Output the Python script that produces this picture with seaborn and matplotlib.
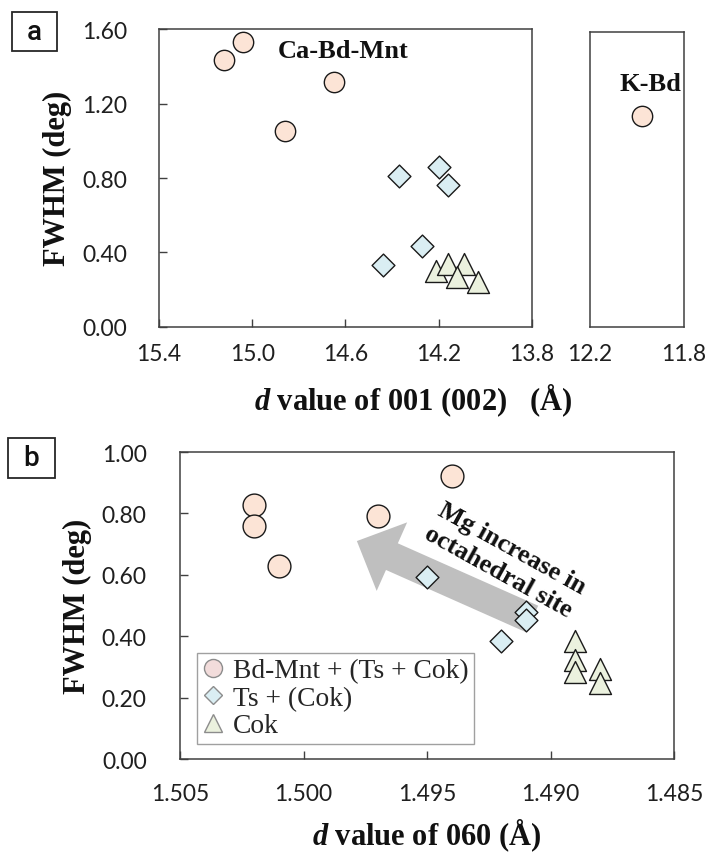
import matplotlib
matplotlib.use("Agg")
import matplotlib.pyplot as plt
import matplotlib.font_manager as fm
import seaborn as sns
import pandas as pd
from matplotlib.patches import FancyArrowPatch, Rectangle
from matplotlib.lines import Line2D
from matplotlib.ticker import FormatStrFormatter

# ---------------- data ----------------
# panel a : d(001) vs FWHM
a_bdmnt_d = [15.12, 15.04, 14.65, 14.86]
a_bdmnt_fwhm = [1.435, 1.528, 1.316, 1.055]
a_ts_d = [14.37, 14.20, 14.16, 14.27, 14.44]
a_ts_fwhm = [0.813, 0.859, 0.763, 0.437, 0.335]
a_cok_d = [14.21, 14.16, 14.09, 14.12, 14.03]
a_cok_fwhm = [0.298, 0.340, 0.340, 0.270, 0.243]
a_kbd_d = [11.98]
a_kbd_fwhm = [1.134]

# panel b : d(060) vs FWHM
b_bdmnt_d = [1.5020, 1.5020, 1.5010, 1.4940, 1.4970]
b_bdmnt_fwhm = [0.827, 0.760, 0.630, 0.921, 0.790]
b_ts_d = [1.4950, 1.4910, 1.4910, 1.4920]
b_ts_fwhm = [0.592, 0.478, 0.453, 0.385]
b_cok_d = [1.4890, 1.4890, 1.4890, 1.4880, 1.4880]
b_cok_fwhm = [0.383, 0.321, 0.282, 0.293, 0.248]

a_xticks = [15.4, 15.0, 14.6, 14.2, 13.8]
a_kbd_xticks = [12.2, 11.8]
a_yticks = [0.0, 0.4, 0.8, 1.2, 1.6]
b_xticks = [1.505, 1.500, 1.495, 1.490, 1.485]
b_yticks = [0.0, 0.2, 0.4, 0.6, 0.8, 1.0]
group_labels = ["Bd-Mnt + (Ts + Cok)", "Ts + (Cok)", "Cok"]

# ---------------- style ----------------
plt.rcParams['font.family'] = ['Lato', 'DejaVu Sans']
plt.rcParams['mathtext.fontset'] = 'custom'
plt.rcParams['mathtext.it'] = 'Liberation Serif:italic:bold'
plt.rcParams['mathtext.rm'] = 'Liberation Serif:bold'
plt.rcParams['mathtext.bf'] = 'Liberation Serif:bold'

names = {f.name for f in fm.fontManager.ttflist}
narrow = 'Liberation Sans Narrow' if 'Liberation Sans Narrow' in names else 'Roboto'

SERIF = 'Liberation Serif'
EDGE = '#1a1a1a'
SPINE = '#404040'
TICKC = '#1f1f1f'
C_CIRC = '#FCE4D6'
C_DIA = '#DAEEF3'
C_TRI = '#EBF1DE'

fig = plt.figure(figsize=(7.06, 8.53), dpi=100)

ax_a = fig.add_axes([0.2252, 0.6155, 0.5283, 0.3493])
ax_k = fig.add_axes([0.8357, 0.6155, 0.1331, 0.3458])
ax_b = fig.add_axes([0.2550, 0.1090, 0.6997, 0.3599])


def draw(ax, x, y, marker, color, s):
    df = pd.DataFrame({'d': x, 'fwhm': y})
    sns.scatterplot(data=df, x='d', y='fwhm', marker=marker, color=color, s=s,
                    edgecolor=EDGE, linewidth=1.0, ax=ax, legend=False, zorder=3)


# panel a
draw(ax_a, a_bdmnt_d, a_bdmnt_fwhm, 'o', C_CIRC, 215)
draw(ax_a, a_ts_d, a_ts_fwhm, 'D', C_DIA, 135)
draw(ax_a, a_cok_d, a_cok_fwhm, '^', C_TRI, 250)
draw(ax_k, a_kbd_d, a_kbd_fwhm, 'o', C_CIRC, 215)

# panel b
arrow = FancyArrowPatch(posA=(0.713, 0.456), posB=(0.358, 0.710),
                        transform=ax_b.transAxes,
                        arrowstyle='simple,head_length=27.6,head_width=54,tail_width=21',
                        color='#bfbfbf', lw=0, shrinkA=0, shrinkB=0, zorder=1)
ax_b.add_patch(arrow)
draw(ax_b, b_bdmnt_d, b_bdmnt_fwhm, 'o', C_CIRC, 270)
draw(ax_b, b_ts_d, b_ts_fwhm, 'D', C_DIA, 135)
draw(ax_b, b_cok_d, b_cok_fwhm, '^', C_TRI, 250)

# ---------------- axes ----------------
for ax in (ax_a, ax_k, ax_b):
    for sp in ax.spines.values():
        sp.set_visible(True)
        sp.set_color(SPINE)
        sp.set_linewidth(1.1)
    ax.tick_params(direction='in', length=5.8, width=1.0, color=SPINE,
                   labelsize=16.5, labelcolor=TICKC)
    ax.set_xlabel('')
    ax.set_ylabel('')

ax_a.set_xlim(15.4, 13.8)
ax_a.set_ylim(0, 1.6)
ax_a.set_xticks(a_xticks)
ax_a.set_yticks(a_yticks)
ax_a.xaxis.set_major_formatter(FormatStrFormatter('%.1f'))
ax_a.yaxis.set_major_formatter(FormatStrFormatter('%.2f'))
ax_a.tick_params(axis='y', pad=23)
ax_a.tick_params(axis='x', pad=11.5)

ax_k.set_xlim(12.2, 11.8)
ax_k.set_ylim(0, 1.6 * 295 / 298)
ax_k.set_xticks(a_kbd_xticks)
ax_k.xaxis.set_major_formatter(FormatStrFormatter('%.1f'))
ax_k.set_yticks([])
ax_k.tick_params(axis='x', length=0, pad=11.5)

ax_b.set_xlim(1.505, 1.485)
ax_b.set_ylim(0, 1.0)
ax_b.set_xticks(b_xticks)
ax_b.set_yticks(b_yticks)
ax_b.xaxis.set_major_formatter(FormatStrFormatter('%.3f'))
ax_b.yaxis.set_major_formatter(FormatStrFormatter('%.2f'))
ax_b.tick_params(axis='y', pad=24)
ax_b.tick_params(axis='x', pad=17)

lab = dict(fontfamily=SERIF, fontweight='bold', fontsize=22, color='#111111')
ax_a.set_ylabel('FWHM (deg)', **lab)
ax_a.yaxis.set_label_coords(-0.271, 0.503)
ax_a.yaxis.label.set_va('center')
ax_a.set_xlabel('$d$ value of 001 (002)   (Å)', **lab)
ax_a.xaxis.set_label_coords(0.681, -0.245)
ax_a.xaxis.label.set_va('center')

ax_b.set_ylabel('FWHM (deg)', **lab)
ax_b.yaxis.set_label_coords(-0.2085, 0.50)
ax_b.yaxis.label.set_va('center')
ax_b.set_xlabel('$d$ value of 060 (Å)', **lab)
ax_b.xaxis.set_label_coords(0.50, -0.2476)
ax_b.xaxis.label.set_va('center')

# annotations
ann = dict(fontfamily=SERIF, fontweight='bold', fontsize=19, color='#111111')
ax_a.text(0.495, 0.906, 'Ca-Bd-Mnt', transform=ax_a.transAxes, ha='center', va='baseline', **ann)
ax_k.text(0.638, 0.804, 'K-Bd', transform=ax_k.transAxes, ha='center', va='baseline', **ann)
ax_b.text(0.658, 0.648, 'Mg increase in\noctahedral site', transform=ax_b.transAxes,
          ha='center', va='center', rotation=-29, rotation_mode='anchor',
          multialignment='center', linespacing=1.2, zorder=4, **ann)

# legend
handles = [
    Line2D([], [], ls='', marker='o', markersize=13, markerfacecolor='#F2DCDB',
           markeredgecolor='#8c8c8c', markeredgewidth=1.0),
    Line2D([], [], ls='', marker='D', markersize=9.2, markerfacecolor=C_DIA,
           markeredgecolor='#8c8c8c', markeredgewidth=1.0),
    Line2D([], [], ls='', marker='^', markersize=13, markerfacecolor=C_TRI,
           markeredgecolor='#8c8c8c', markeredgewidth=1.0),
]
leg = ax_b.legend(handles, group_labels, loc='lower left', bbox_to_anchor=(0.034, 0.049),
                  borderaxespad=0, borderpad=0.2, labelspacing=0.08, handlelength=0.8,
                  handletextpad=0.3, fancybox=False, framealpha=1, edgecolor='#a0a0a0',
                  prop={'family': SERIF, 'size': 19.8})
leg.get_frame().set_linewidth(1.0)
for t in leg.get_texts():
    t.set_color('#262626')

# panel boxes
fig.add_artist(Rectangle((0.017, 0.939), 0.0637, 0.0457, transform=fig.transFigure,
                         fill=False, lw=1.3, ec='#262626'))
fig.text(0.0489, 0.9619, 'a', ha='center', va='center', fontfamily=narrow, fontsize=20,
         fontweight='medium', color='#111111')
fig.add_artist(Rectangle((0.0113, 0.4385), 0.0666, 0.0469, transform=fig.transFigure,
                         fill=False, lw=1.3, ec='#262626'))
fig.text(0.0446, 0.4619, 'b', ha='center', va='center', fontfamily=narrow, fontsize=20,
         fontweight='medium', color='#111111')

fig.savefig('out.png', dpi=100)
